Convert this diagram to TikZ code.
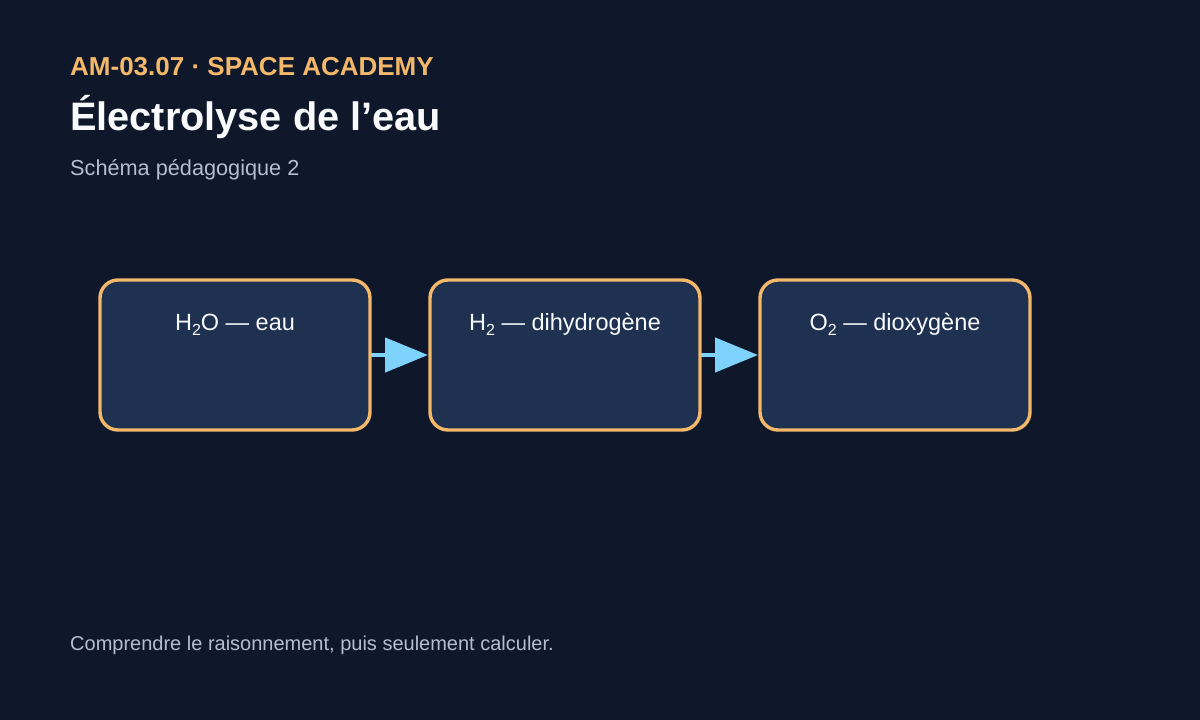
\documentclass[tikz,border=0pt]{standalone}
\usepackage{fontspec}
\setmainfont{Liberation Sans}
\usetikzlibrary{arrows.meta}
\definecolor{bg}{HTML}{0F172A}
\definecolor{boxfill}{HTML}{1F3150}
\definecolor{boxline}{HTML}{F4B86A}
\definecolor{arrowc}{HTML}{7DD3FC}
\definecolor{kicker}{HTML}{F4B86A}
\definecolor{titlec}{HTML}{F8FAFC}
\definecolor{subc}{HTML}{B3BFD0}
\newcommand{\subtwo}{\raisebox{-5pt}{\fontsize{16}{18}\selectfont 2}}
\tikzset{
  stagebox/.style={draw=boxline, fill=boxfill, line width=3.4pt, rounded corners=18pt,
    minimum width=270pt, minimum height=150pt, inner sep=0pt},
  stagelabel/.style={text=titlec, font=\fontsize{23.5}{28}\selectfont, anchor=base, inner sep=0pt},
  flow/.style={draw=arrowc, line width=4.5pt, -{Triangle[length=43pt,width=34pt]}, shorten <=-1pt, shorten >=0.3pt},
  txt/.style={anchor=base west, inner sep=0pt}
}
\begin{document}
\begin{tikzpicture}[x=1pt,y=-1pt]
\fill[bg] (0,0) rectangle (1200,720);
\useasboundingbox (0,0) rectangle (1200,720);
\node[txt, text=kicker, font=\fontsize{26}{30}\selectfont\bfseries] (kick) at (70,75) {AM-03.07 · SPACE ACADEMY};
\node[txt, text=titlec, font=\fontsize{39.7}{46}\selectfont\bfseries] (title) at (70,130) {Électrolyse de l’eau};
\node[txt, text=subc, font=\fontsize{21.7}{26}\selectfont] (sub) at (70,175) {Schéma pédagogique 2};
\node[stagebox] (b1) at (235,355) {};
\node[stagebox] (b2) at (565,355) {};
\node[stagebox] (b3) at (895,355) {};
\node[stagelabel] (l1) at (235,330) {H\subtwo O — eau};
\node[stagelabel] (l2) at (565,330) {H\subtwo{} — dihydrogène};
\node[stagelabel] (l3) at (895,330) {O\subtwo{} — dioxygène};
\draw[flow] (b1.east) -- (b2.west);
\draw[flow] (b2.east) -- (b3.west);
\node[txt, text=subc, font=\fontsize{20}{24}\selectfont] (foot) at (70,650) {Comprendre le raisonnement, puis seulement calculer.};
\end{tikzpicture}
\end{document}
